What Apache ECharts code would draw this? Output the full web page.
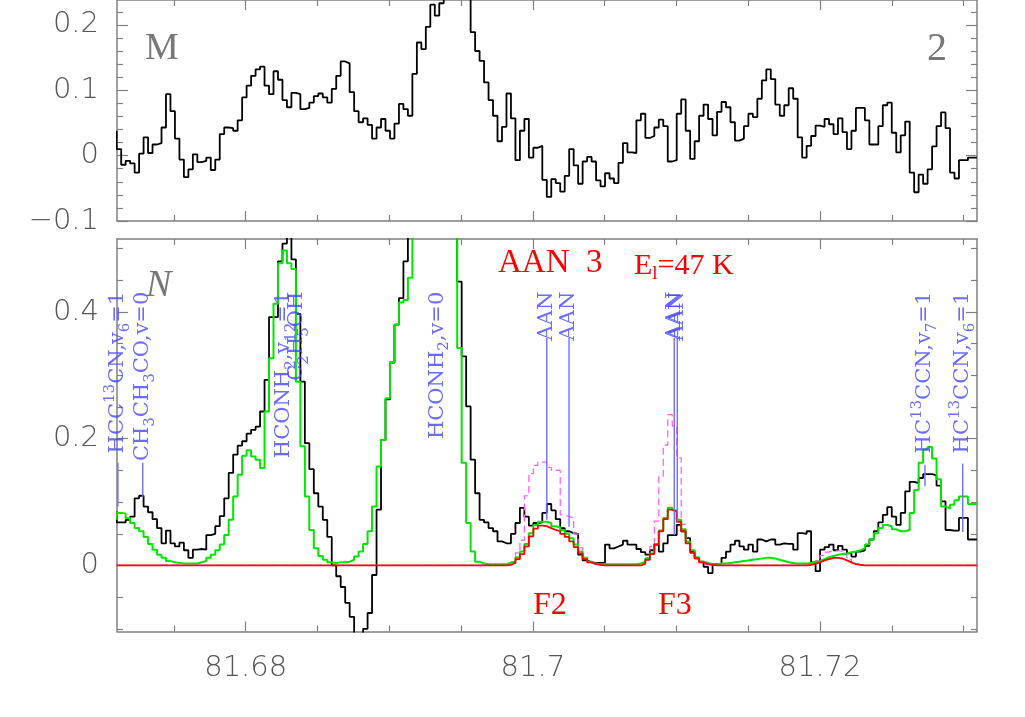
<!DOCTYPE html>
<html>
<head>
<meta charset="utf-8">
<script src="https://cdn.jsdelivr.net/npm/echarts@6/dist/echarts.min.js"></script>
<style>
  html, body { margin: 0; padding: 0; background: #fff; }
  #chart { width: 1025px; height: 717px; }
</style>
</head>
<body>
<div id="chart"></div>
<script>
// channel grid of the spectra
const F0 = 81.671015;
const DF = 0.00031204;

// upper panel (M 2), observed spectrum
const topObs = [
  0.038, 0.010, -0.014, -0.008, -0.012, -0.026, 0.003, 0.028, 0.004, 0.017,
  0.019, 0.043, 0.094, 0.068, 0.026, -0.006, -0.033, -0.021, 0.002, -0.010,
  -0.008, -0.003, -0.022, -0.006, 0.033, 0.043, 0.042, 0.038, 0.054, 0.089,
  0.107, 0.122, 0.132, 0.136, 0.107, 0.094, 0.129, 0.116, 0.085, 0.074,
  0.096, 0.094, 0.071, 0.073, 0.081, 0.091, 0.095, 0.089, 0.081, 0.102,
  0.122, 0.144, 0.141, 0.097, 0.068, 0.051, 0.057, 0.047, 0.026, 0.043,
  0.056, 0.038, 0.026, 0.049, 0.079, 0.071, 0.061, 0.125, 0.173, 0.163,
  0.197, 0.231, 0.214, 0.233, 0.25, 0.27, 0.28, 0.28, 0.27, 0.25,
  0.189, 0.160, 0.145, 0.112, 0.085, 0.061, 0.022, 0.044, 0.095, 0.057,
  -0.007, 0.038, 0.056, -0.003, 0.012, 0.015, -0.037, -0.063, -0.036, -0.042,
  -0.055, -0.031, 0.010, -0.015, -0.043, -0.009, -0.002, -0.009, -0.038, -0.047,
  -0.027, -0.035, -0.042, -0.011, 0.019, 0.005, 0.004, 0.054, 0.064, 0.027,
  0.030, 0.043, 0.055, 0.045, -0.009, -0.007, 0.064, 0.086, 0.038, -0.005,
  0.022, 0.061, 0.078, 0.056, 0.031, 0.067, 0.082, 0.074, 0.051, 0.023,
  0.026, 0.045, 0.064, 0.059, 0.087, 0.115, 0.132, 0.117, 0.078, 0.061,
  0.077, 0.103, 0.087, 0.028, -0.003, 0.015, 0.030, 0.046, 0.044, 0.056,
  0.048, 0.033, 0.057, 0.036, 0.010, 0.038, 0.073, 0.073, 0.054, 0.017,
  0.017, 0.045, 0.077, 0.081, 0.035, 0.005, 0.031, 0.052, -0.026, -0.056,
  -0.029, -0.043, -0.021, 0.014, 0.045, 0.066, 0.042, -0.026, -0.035, -0.007,
  -0.007, -0.003
];

// lower panel (N), observed spectrum
const botObs = [
  0.085, 0.068, 0.068, 0.072, 0.077, 0.106, 0.110, 0.093, 0.084, 0.073,
  0.059, 0.035, 0.055, 0.035, 0.030, 0.036, 0.024, 0.012, 0.025, 0.026,
  0.025, 0.048, 0.050, 0.062, 0.078, 0.106, 0.146, 0.175, 0.189, 0.196,
  0.208, 0.214, 0.219, 0.243, 0.293, 0.392, 0.392, 0.480, 0.508, 0.54,
  0.483, 0.397, 0.290, 0.193, 0.152, 0.114, 0.093, 0.072, 0.045, 0.000,
  -0.017, -0.034, -0.059, -0.081, -0.12, -0.13, -0.10, -0.075, -0.015, 0.088,
  0.198, 0.262, 0.32, 0.38, 0.422, 0.48, 0.53, 0.58, 0.68, 0.78,
  0.85, 0.9, 0.9, 0.86, 0.78, 0.68, 0.57, 0.448, 0.33, 0.251,
  0.167, 0.114, 0.072, 0.068, 0.059, 0.054, 0.038, 0.035, 0.035, 0.050,
  0.067, 0.091, 0.077, 0.063, 0.067, 0.068, 0.083, 0.097, 0.087, 0.073,
  0.059, 0.054, 0.051, 0.050, 0.017, 0.008, 0.005, 0.004, 0.004, 0.004,
  0.033, 0.027, 0.030, 0.033, 0.039, 0.033, 0.033, 0.026, 0.021, 0.017,
  0.024, 0.033, 0.022, 0.035, 0.048, 0.048, 0.064, 0.054, 0.043, 0.022,
  0.012, 0.006, -0.002, -0.012, 0.002, 0.003, 0.012, 0.022, 0.033, 0.039,
  0.030, 0.025, 0.033, 0.022, 0.041, 0.038, 0.041, 0.041, 0.033, 0.035,
  0.034, 0.034, 0.025, 0.051, 0.050, 0.054, 0.005, -0.009, 0.025, 0.029,
  0.033, 0.024, 0.031, 0.025, 0.019, 0.014, 0.022, 0.024, 0.031, 0.041,
  0.054, 0.068, 0.080, 0.092, 0.077, 0.064, 0.083, 0.117, 0.132, 0.130,
  0.138, 0.144, 0.144, 0.142, 0.126, 0.101, 0.056, 0.055, 0.055, 0.075,
  0.075, 0.041
];

// full model, all species (green)
const botAll = [
  0.072, 0.083, 0.082, 0.075, 0.067, 0.059, 0.054, 0.045, 0.034, 0.025,
  0.017, 0.012, 0.007, 0.005, 0.004, 0.003, 0.003, 0.003, 0.003, 0.005,
  0.007, 0.012, 0.017, 0.024, 0.033, 0.048, 0.072, 0.109, 0.143, 0.173,
  0.182, 0.172, 0.167, 0.154, 0.243, 0.327, 0.413, 0.477, 0.497, 0.477,
  0.468, 0.290, 0.188, 0.109, 0.056, 0.027, 0.015, 0.009, 0.005, 0.004,
  0.005, 0.005, 0.006, 0.009, 0.014, 0.022, 0.034, 0.054, 0.093, 0.156,
  0.198, 0.264, 0.321, 0.38, 0.415, 0.419, 0.454, 0.56, 0.66, 0.76,
  0.84, 0.88, 0.88, 0.84, 0.76, 0.66, 0.55, 0.343, 0.162, 0.067,
  0.022, 0.006, 0.003, 0.002, 0.002, 0.002, 0.002, 0.002, 0.004, 0.006,
  0.013, 0.022, 0.034, 0.051, 0.064, 0.069, 0.069, 0.067, 0.062, 0.060,
  0.056, 0.050, 0.043, 0.033, 0.022, 0.012, 0.006, 0.003, 0.002, 0.002,
  0.002, 0.002, 0.002, 0.002, 0.002, 0.002, 0.002, 0.003, 0.006, 0.011,
  0.019, 0.034, 0.055, 0.075, 0.091, 0.087, 0.072, 0.057, 0.038, 0.024,
  0.013, 0.006, 0.004, 0.002, 0.002, 0.003, 0.003, 0.004, 0.005, 0.006,
  0.007, 0.008, 0.009, 0.010, 0.011, 0.012, 0.012, 0.011, 0.009, 0.007,
  0.005, 0.004, 0.003, 0.003, 0.003, 0.004, 0.005, 0.007, 0.010, 0.013,
  0.015, 0.017, 0.018, 0.019, 0.021, 0.022, 0.024, 0.027, 0.033, 0.041,
  0.051, 0.059, 0.064, 0.062, 0.057, 0.054, 0.054, 0.056, 0.083, 0.119,
  0.162, 0.183, 0.187, 0.169, 0.136, 0.093, 0.090, 0.096, 0.103, 0.109,
  0.109, 0.097
];

// AAN model (red), one row per 10 channels
const botAAN = [
  0, 0, 0, 0, 0, 0, 0, 0, 0, 0,
  0, 0, 0, 0, 0, 0, 0, 0, 0, 0,
  0, 0, 0, 0, 0, 0, 0, 0, 0, 0,
  0, 0, 0, 0, 0, 0, 0, 0, 0, 0,
  0, 0, 0, 0, 0, 0, 0, 0, 0, 0,
  0, 0, 0, 0, 0, 0, 0, 0, 0, 0,
  0, 0, 0, 0, 0, 0, 0, 0, 0, 0,
  0, 0, 0, 0, 0, 0, 0, 0, 0, 0,
  0, 0, 0, 0, 0, 0, 0, 0, 0.001, 0.004,
  0.010, 0.018, 0.030, 0.046, 0.058, 0.063, 0.062, 0.059, 0.056, 0.054,
  0.050, 0.045, 0.038, 0.029, 0.019, 0.010, 0.005, 0.002, 0.001, 0,
  0, 0, 0, 0, 0, 0, 0, 0, 0.003, 0.009,
  0.018, 0.033, 0.054, 0.073, 0.088, 0.085, 0.069, 0.054, 0.035, 0.020,
  0.011, 0.005, 0.002, 0.001, 0, 0, 0, 0, 0, 0,
  0, 0, 0, 0, 0, 0, 0, 0, 0, 0,
  0, 0, 0, 0, 0, 0.001, 0.003, 0.005, 0.008, 0.010,
  0.012, 0.012, 0.011, 0.008, 0.005, 0.002, 0.001, 0, 0, 0,
  0, 0, 0, 0, 0, 0, 0, 0, 0, 0,
  0, 0, 0, 0, 0, 0, 0, 0, 0, 0,
  0, 0
];

// AAN alternative model (magenta, dashed)
const botAANalt = [
  0, 0, 0, 0, 0, 0, 0, 0, 0, 0,
  0, 0, 0, 0, 0, 0, 0, 0, 0, 0,
  0, 0, 0, 0, 0, 0, 0, 0, 0, 0,
  0, 0, 0, 0, 0, 0, 0, 0, 0, 0,
  0, 0, 0, 0, 0, 0, 0, 0, 0, 0,
  0, 0, 0, 0, 0, 0, 0, 0, 0, 0,
  0, 0, 0, 0, 0, 0, 0, 0, 0, 0,
  0, 0, 0, 0, 0, 0, 0, 0, 0, 0,
  0, 0, 0, 0, 0, 0, 0, 0, 0.001, 0.006,
  0.020, 0.040, 0.110, 0.145, 0.158, 0.163, 0.163, 0.155, 0.150, 0.150,
  0.080, 0.077, 0.075, 0.050, 0.028, 0.012, 0.005, 0.002, 0.001, 0,
  0, 0, 0, 0, 0, 0, 0, 0, 0.004, 0.012,
  0.030, 0.070, 0.140, 0.190, 0.238, 0.220, 0.170, 0.065, 0.035, 0.020,
  0.012, 0.006, 0.002, 0.001, 0, 0, 0, 0, 0, 0,
  0, 0, 0, 0, 0, 0, 0, 0, 0, 0,
  0, 0, 0, 0, 0, 0.001, 0.003, 0.008, 0.016, 0.021,
  0.024, 0.024, 0.022, 0.017, 0.010, 0.004, 0.001, 0, 0, 0,
  0, 0, 0, 0, 0, 0, 0, 0, 0, 0,
  0, 0, 0, 0, 0, 0, 0, 0, 0, 0,
  0, 0
];

// line identifications (blue)
const idFreq   = [81.67110, 81.67283, 81.68267, 81.68357, 81.69333, 81.70097, 81.70252, 81.70985, 81.71006, 81.72731, 81.72994];
const idName   = ['HCC{p|13}CN,v{b|6}=1', 'CH{b|3}CH{b|3}CO,v=0', 'HCONH{b|2},v{b|12}=1', 'C{b|2}H{b|5}OH',
                  'HCONH{b|2},v=0', 'AAN', 'AAN', 'AAN', 'AAN', 'HC{p|13}CCN,v{b|7}=1', 'HC{p|13}CCN,v{b|6}=1'];
const idTop    = [0.162, 0.162, null, null, null, 0.359, 0.359, 0.359, 0.359, 0.159, 0.161];
const idBottom = [0.093, 0.108, null, null, null, 0.072, 0.061, 0.048, 0.067, 0.125, 0.053];
const idLabelAt = 0.432;

// axes
const xMin = 81.671036, xMax = 81.730935;
const xMajor = [81.68, 81.70, 81.72];
const xMinor = [81.675, 81.685, 81.69, 81.695, 81.705, 81.71, 81.715, 81.725, 81.73];
const topMin = -0.1, topMax = 0.238;
const topMajor = [-0.1, 0, 0.1, 0.2];
const topMinor = [-0.08, -0.06, -0.04, -0.02, 0.02, 0.04, 0.06, 0.08, 0.12, 0.14, 0.16, 0.18, 0.22];
const botMin = -0.1042, botMax = 0.5152;
const botMajor = [0, 0.2, 0.4];
const botMinor = [-0.1, -0.05, 0.05, 0.1, 0.15, 0.25, 0.3, 0.35, 0.45, 0.5];

const frameColor = '#808080';
const labelFont = { fontFamily: 'DejaVu Sans', fontWeight: 300, fontSize: 29, color: '#555' };

function steps(vals) {
  const pts = vals.map((v, k) => [F0 + k * DF, v]);
  pts.push([F0 + vals.length * DF, vals[vals.length - 1]]);
  return pts;
}

function xAxes(grid, labels) {
  const base = { type: 'value', gridIndex: grid, min: xMin, max: xMax, splitLine: { show: false } };
  const mk = (pos, vals, len, line, lab) => Object.assign({}, base, {
    position: pos,
    axisLine: { show: line, onZero: false, lineStyle: { color: frameColor, width: 1.5 } },
    axisTick: { show: true, inside: true, length: len, customValues: vals, lineStyle: { color: frameColor, width: 1.2 } },
    axisLabel: lab ? Object.assign({ show: true, margin: 22, customValues: xMajor }, labelFont) : { show: false }
  });
  return [
    mk('bottom', xMajor, 10, true, labels),
    mk('bottom', xMinor, 6, false, false),
    mk('top', xMajor, 10, true, false),
    mk('top', xMinor, 6, false, false)
  ];
}

function yAxes(grid, min, max, major, minor) {
  const base = { type: 'value', gridIndex: grid, min: min, max: max, splitLine: { show: false } };
  const mk = (pos, vals, len, line, lab) => Object.assign({}, base, {
    position: pos,
    axisLine: { show: line, onZero: false, lineStyle: { color: frameColor, width: 1.5 } },
    axisTick: { show: true, inside: true, length: len, customValues: vals, lineStyle: { color: frameColor, width: 1.2 } },
    axisLabel: lab ? Object.assign({
      show: true, margin: 18, customValues: major,
      formatter: v => String(+v.toFixed(2)).replace('-', '\u2212')
    }, labelFont) : { show: false }
  });
  return [
    mk('left', major, 11, true, true),
    mk('left', minor, 6, false, false),
    mk('right', major, 11, true, false),
    mk('right', minor, 6, false, false)
  ];
}

const specLine = (name, xi, yi, vals, color, width, extra) => Object.assign({
  name: name, type: 'line', xAxisIndex: xi, yAxisIndex: yi,
  data: steps(vals), step: 'start', symbol: 'none', silent: true, clip: true,
  lineStyle: { color: color, width: width }
}, extra || {});

const series = [
  specLine('M2 observed', 0, 0, topObs, '#000', 1.8),
  specLine('N observed', 4, 4, botObs, '#000', 1.8),
  specLine('AAN alt', 4, 4, botAANalt, '#ff55ff', 1.2, { lineStyle: { color: '#ff55ff', width: 1.2, type: [7, 4] } }),
  specLine('all species', 4, 4, botAll, '#00e600', 2),
  specLine('AAN', 4, 4, botAAN, '#ff0000', 1.8)
];

const blueText = '#4646ff';
const idFont = 'DejaVu Serif';
const blueRich = {
  p: { fontSize: 15, lineHeight: 15, verticalAlign: 'top', color: blueText, fontFamily: idFont },
  b: { fontSize: 15, lineHeight: 15, verticalAlign: 'bottom', color: blueText, fontFamily: idFont }
};

idFreq.forEach((f, i) => {
  if (idTop[i] !== null) {
    series.push({
      type: 'line', xAxisIndex: 4, yAxisIndex: 4, symbol: 'none', silent: true,
      data: [[f, idBottom[i]], [f, idTop[i]]],
      lineStyle: { color: '#7070ff', width: 1.4 }, z: 5
    });
  }
});

series.push({
  type: 'scatter', xAxisIndex: 4, yAxisIndex: 4, symbolSize: 1, silent: true,
  itemStyle: { color: 'rgba(0,0,0,0)' }, z: 6,
  data: idFreq.map((f, i) => ({ value: [f, idLabelAt], name: idName[i] })),
  label: {
    show: true, position: 'inside', rotate: 90, align: 'right', verticalAlign: 'middle',
    formatter: p => p.name,
    fontFamily: idFont, fontSize: 21, lineHeight: 30, color: blueText,
    rich: blueRich
  }
});

const serif = 'Liberation Serif';

const option = {
  backgroundColor: '#fff',
  animation: false,
  grid: [
    { left: 117, top: 0, width: 860, height: 221 },
    { left: 117, top: 239, width: 860, height: 392.5 }
  ],
  xAxis: xAxes(0, false).concat(xAxes(1, true)),
  yAxis: yAxes(0, topMin, topMax, topMajor, topMinor).concat(yAxes(1, botMin, botMax, botMajor, botMinor)),
  series: series,
  graphic: [
    { type: 'text', style: { x: 145, y: 49, text: 'M', font: '38px ' + serif, fill: '#777', verticalAlign: 'middle' } },
    { type: 'text', style: { x: 927, y: 49, text: '2', font: '40px ' + serif, fill: '#777', verticalAlign: 'middle' } },
    { type: 'text', style: { x: 146, y: 286, text: 'N', font: 'italic 38px ' + serif, fill: '#777', verticalAlign: 'middle' } },
    { type: 'text', style: { x: 498, y: 263, text: 'AAN  3', font: '33px ' + serif, fill: '#ff0000', verticalAlign: 'middle' } },
    { type: 'text', style: {
        x: 634, y: 266, text: 'E{s|l}=47 K', font: '30px ' + serif, fill: '#ff0000', verticalAlign: 'middle',
        lineHeight: 36,
        rich: { s: { fontSize: 19, lineHeight: 19, verticalAlign: 'bottom', fill: '#ff0000', fontFamily: serif } }
      } },
    { type: 'text', style: { x: 533, y: 606, text: 'F2', font: '32px ' + serif, fill: '#ff0000', verticalAlign: 'middle' } },
    { type: 'text', style: { x: 658, y: 606, text: 'F3', font: '32px ' + serif, fill: '#ff0000', verticalAlign: 'middle' } }
  ]
};

const chart = echarts.init(document.getElementById('chart'), null, { renderer: 'canvas' });
chart.setOption(option);
</script>
</body>
</html>
